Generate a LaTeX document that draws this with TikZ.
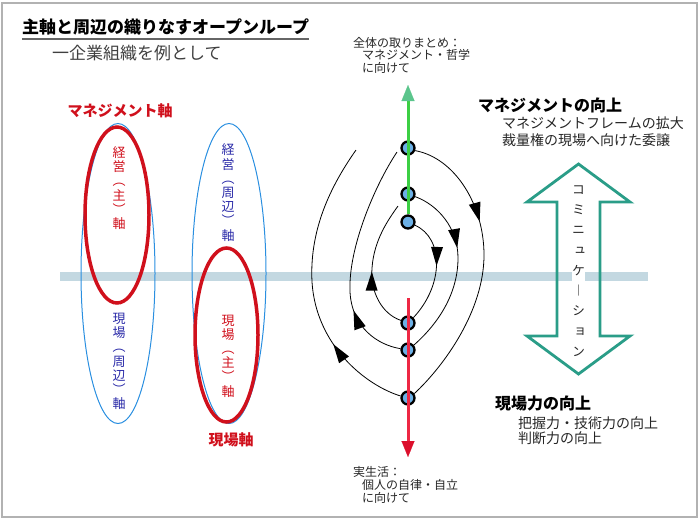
\documentclass[tikz,border=0pt]{standalone}
\usepackage{fontspec}
\setmainfont{Noto Sans CJK JP}
\newfontfamily\vjp[RawFeature=+vert]{Noto Sans CJK JP}
\usetikzlibrary{arrows.meta, positioning, decorations.markings}

\definecolor{axred}{HTML}{D0101C}
\definecolor{axblue}{HTML}{2A2AA8}
\definecolor{ellblue}{HTML}{2A8FE0}
\definecolor{bandgray}{HTML}{C3D8E1}
\definecolor{framegray}{HTML}{B2B2B2}
\definecolor{ptblue}{HTML}{6CB0E6}
\definecolor{mgreen}{HTML}{3CCF44}
\definecolor{mgreenhead}{HTML}{5BC58C}
\definecolor{lred}{HTML}{EE2844}
\definecolor{lredhead}{HTML}{DC0F2C}
\definecolor{commteal}{HTML}{2A9D88}

\begin{document}
\begin{tikzpicture}[
    x=1pt, y=-1pt,
    >=Stealth,
    pnode/.style={draw=black, circle, fill=ptblue, line width=2.3pt,
                  minimum size=13pt, inner sep=0pt},
    loopline/.style={draw, line width=0.8pt},
    midarrow/.style={postaction={decorate}, decoration={markings,
                  mark=at position #1 with {\fill (1,0) -- (-18,6) -- (-18,-6) -- cycle;}}},
    vtext/.style={align=center, inner sep=0pt,
                  font=\vjp\fontsize{13}{14.2}\selectfont},
    axislabel/.style={font=\bfseries\fontsize{15}{18}\selectfont, text=axred},
    headtext/.style={font=\bfseries\fontsize{16}{18}\selectfont, inner sep=0pt},
    subtext/.style={font=\fontsize{14}{17}\selectfont, align=left, inner sep=0pt,
                    text=black!85},
    notetext/.style={font=\fontsize{12}{12.5}\selectfont, align=left, inner sep=0pt,
                     text=black!85}
  ]
  \useasboundingbox (0,0) rectangle (700,520);
  \draw[framegray, line width=2pt] (1.8,3) rectangle (696.7,517);

  \node[font=\bfseries\fontsize{17}{20}\selectfont, inner sep=0pt, anchor=west]
    (title) at (22,27.5) {主軸と周辺の織りなすオープンループ};
  \draw[black!60, line width=2pt] ([yshift=-3pt]title.south west)
    -- ([yshift=-3pt]title.south east);
  \node[font=\fontsize{17}{20}\selectfont, text=black!75, inner sep=0pt,
        anchor=west] (subtitle) at (52,53) {一企業組織を例として};

  \fill[bandgray] (60,272) rectangle (648,281);

  \draw[ellblue, line width=1pt] (118,273.5) ellipse [x radius=37, y radius=150];
  \draw[ellblue, line width=1pt] (229,273.5) ellipse [x radius=37, y radius=150];
  \draw[axred, line width=3.5pt] (117,215) ellipse [x radius=32, y radius=88];
  \draw[axred, line width=3.5pt] (226.5,335) ellipse [x radius=31.5, y radius=87];

  \node[axislabel] (mgaxis) at (120,111) {マネジメント軸};
  \node[axislabel] (gbaxis) at (231,440) {現場軸};

  \node[vtext, text=axred] (mgmain) at (119,188) {経\\営\\︵\\主\\︶\\軸};
  \node[vtext, text=axblue] (gbside) at (119,361.5) {現\\場\\︵\\周\\辺\\︶\\軸};
  \node[vtext, text=axblue] (mgside) at (228,192.5) {経\\営\\︵\\周\\辺\\︶\\軸};
  \node[vtext, text=axred] (gbmain) at (228,356) {現\\場\\︵\\主\\︶\\軸};

  \node[pnode] (t1) at (408,148) {};
  \node[pnode] (t2) at (408,194) {};
  \node[pnode] (t3) at (408,222) {};
  \node[pnode] (b1) at (408,323) {};
  \node[pnode] (b2) at (408,350) {};
  \node[pnode] (b3) at (408,398) {};

  \coordinate (mtop) at (408,85);
  \coordinate (ltop) at (408,298);
  \coordinate (lbot) at (408,457);
  \coordinate (olend) at (356,150);
  \coordinate (mlend) at (397,152);
  \coordinate (ilend) at (398,206);

  \draw[loopline, midarrow=0.34] (t1.-20) .. controls (455,158) and (484,205)
    .. (484,255) .. controls (484,310) and (445,365) .. (b3.35);
  \draw[loopline, midarrow=0.29] (b3.165) .. controls (365,385) and (316,345)
    .. (312,282) .. controls (309,225) and (335,180) .. (olend);
  \draw[loopline, midarrow=0.38] (t2.-20) .. controls (438,205) and (458,228)
    .. (458,258) .. controls (458,292) and (440,322) .. (b2.40);
  \draw[loopline, midarrow=0.27] (b2.170) .. controls (378,345) and (352,328)
    .. (350,292) .. controls (348,248) and (375,185) .. (mlend);
  \draw[loopline, midarrow=0.45] (t3.-25) .. controls (444,238) and (444,285)
    .. (b1.45);
  \draw[loopline, midarrow=0.45] (b1.160) .. controls (382,314) and (370,292)
    .. (372,268) .. controls (374,240) and (388,220) .. (ilend);

  \draw[mgreen, line width=3pt,
        -{Triangle[width=13pt,length=16pt,color=mgreenhead,line width=0.1pt]}]
    (t3.north) -- (mtop);
  \draw[lred, line width=3pt,
        -{Triangle[width=13pt,length=16pt,color=lredhead,line width=0.1pt]}]
    (ltop) -- (lbot);

  \node[notetext, anchor=west] (goaltop) at (353,55)
    {全体の取りまとめ：\\\hspace*{9pt}マネジメント・哲学\\\hspace*{9pt}に向けて};
  \node[notetext, anchor=west, font=\fontsize{12}{13}\selectfont] (goalbot) at (353,485)
    {実生活：\\\hspace*{9pt}個人の自律・自立\\\hspace*{9pt}に向けて};

  \draw[commteal, line width=2.8pt, line join=miter]
    (578.5,164) -- (630,202) -- (600,202) -- (600,336) -- (630,336)
    -- (578.5,374) -- (527,336) -- (557,336) -- (557,202) -- (527,202) -- cycle;
  \node[vtext, fill=white, text=black!85, font=\vjp\fontsize{13}{20.25}\selectfont]
    (comm) at (578.5,271) {コ\\ミ\\ニ\\ュ\\ケ\\︱\\シ\\ョ\\ン};

  \node[headtext, anchor=west] (mgup) at (478,105) {マネジメントの向上};
  \node[subtext, anchor=west] (mgsub) at (502,131.5)
    {マネジメントフレームの拡大\\裁量権の現場へ向けた委譲};
  \node[headtext, anchor=west] (gbup) at (495,403) {現場力の向上};
  \node[subtext, anchor=west, font=\fontsize{14}{15.5}\selectfont] (gbsub) at (518,430.5)
    {把握力・技術力の向上\\判断力の向上};
\end{tikzpicture}
\end{document}
